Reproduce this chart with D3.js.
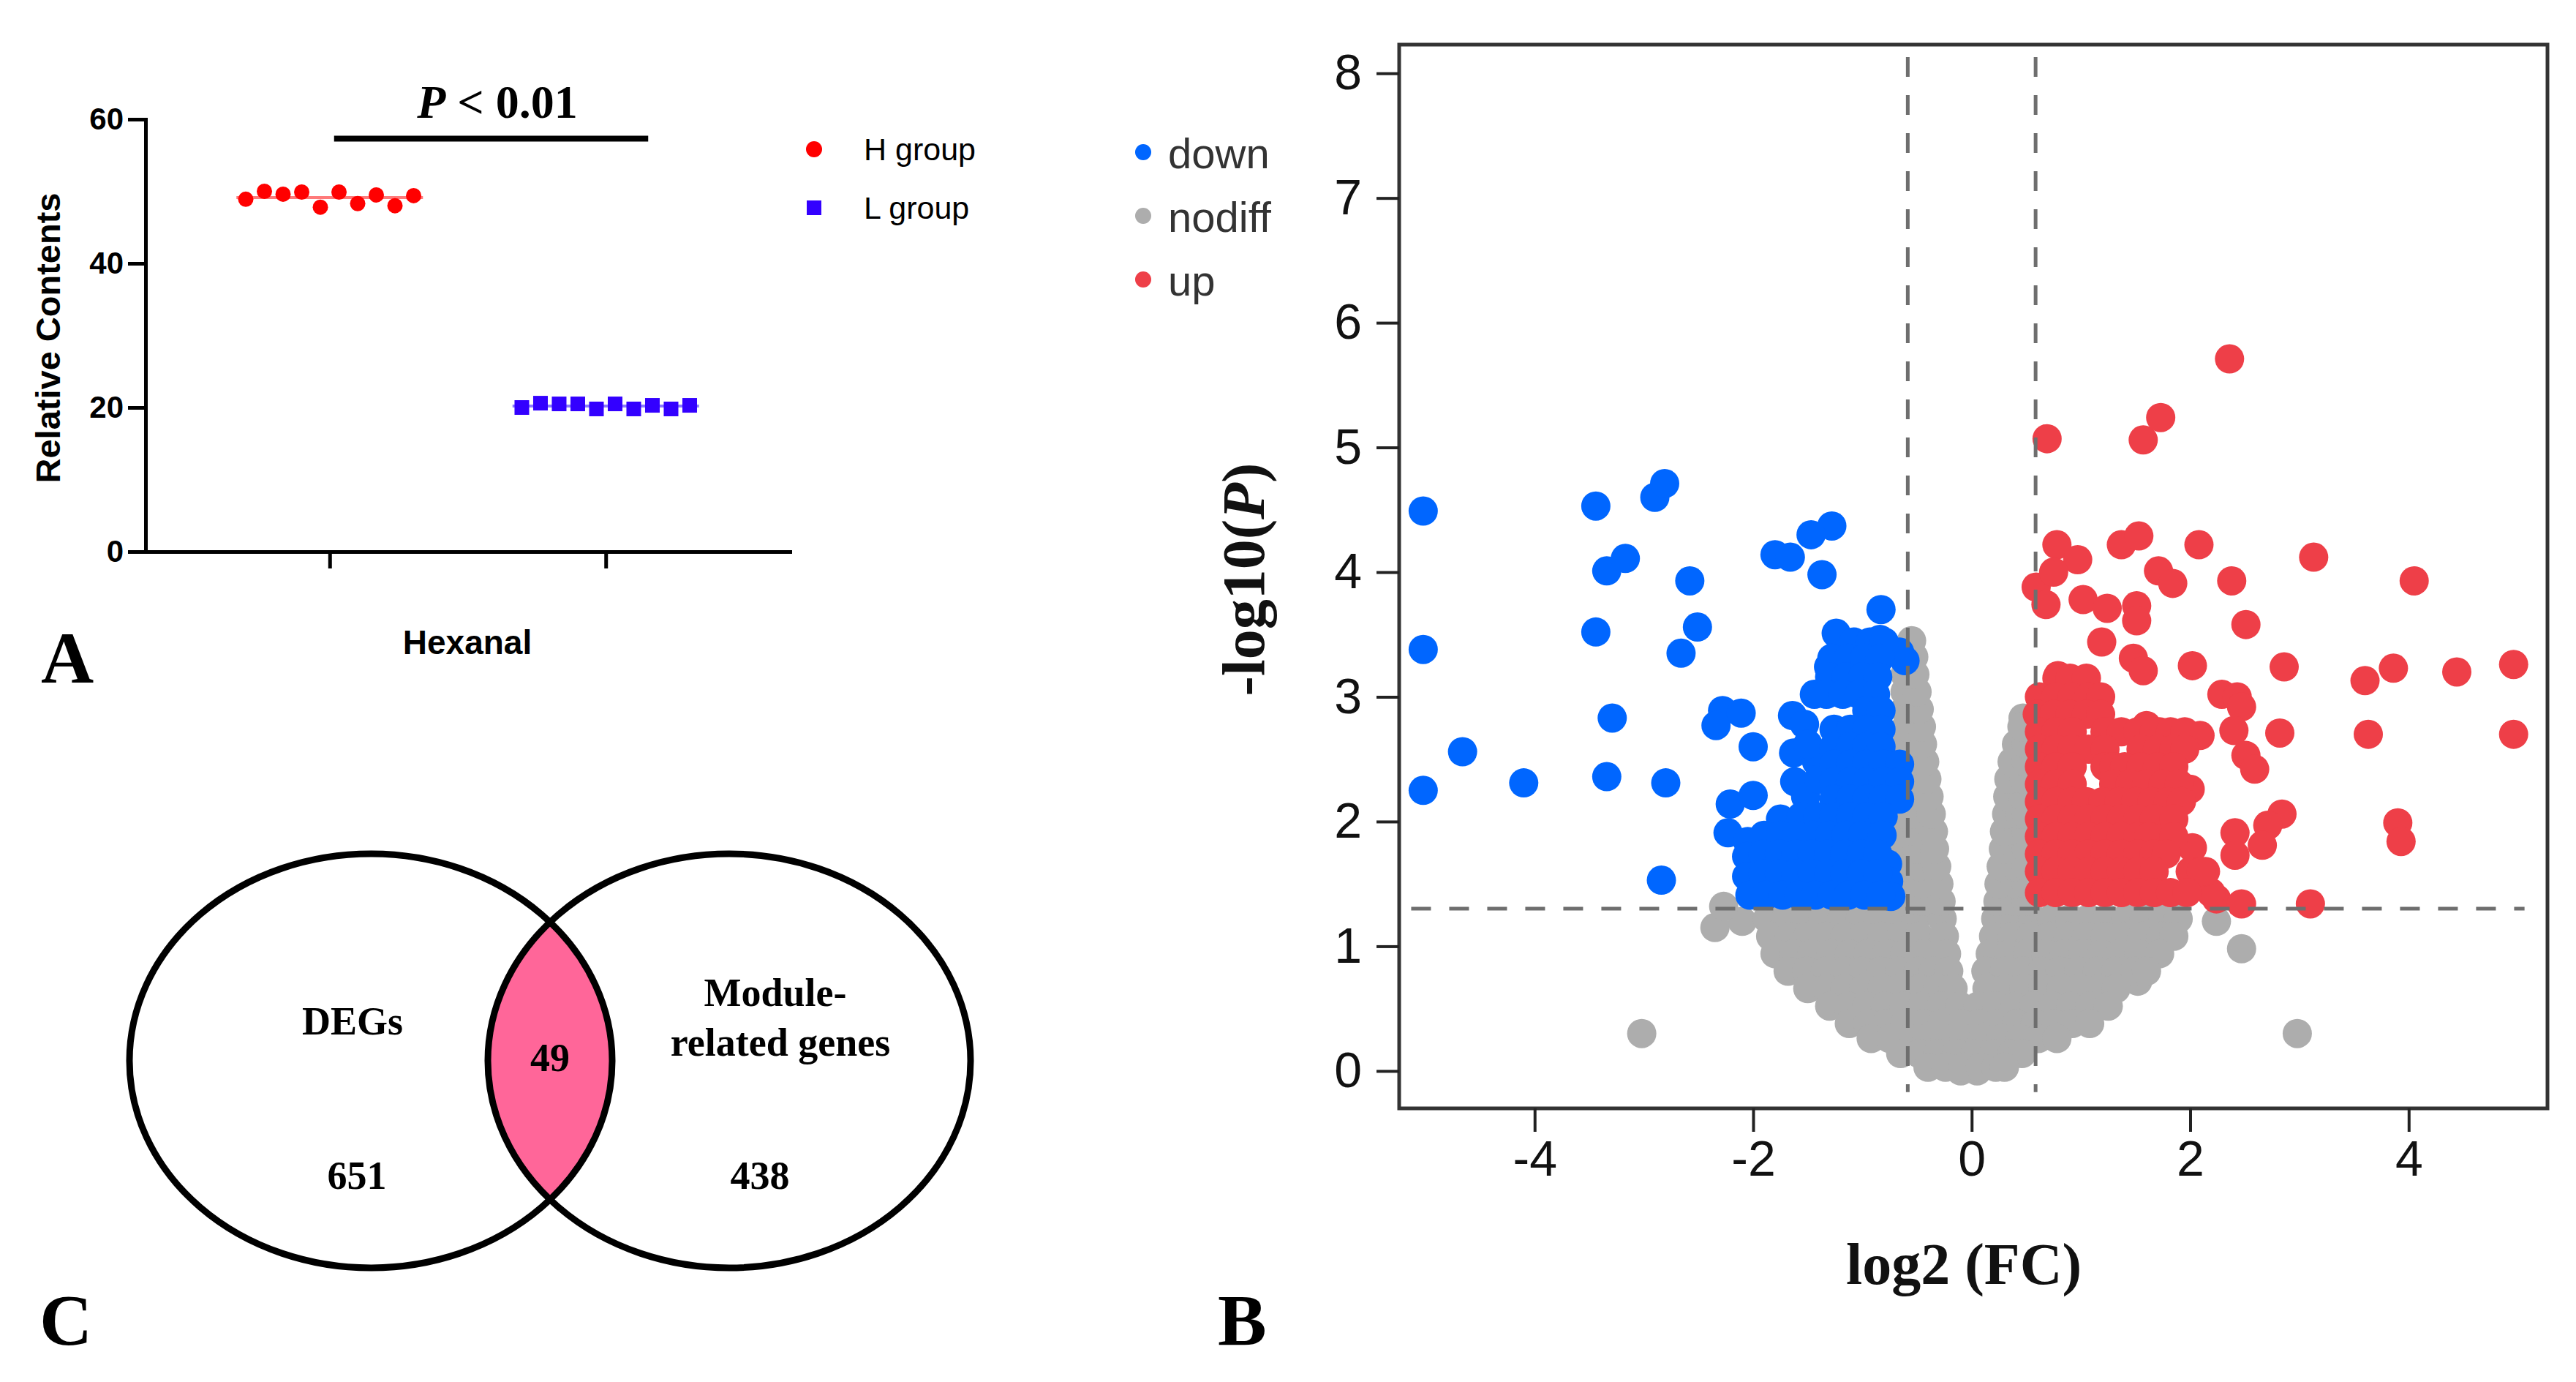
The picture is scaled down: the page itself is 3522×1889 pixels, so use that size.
<!DOCTYPE html>
<html><head><meta charset="utf-8">
<script src="https://cdn.jsdelivr.net/npm/d3@7"></script>
<style>body{margin:0;background:#fff}svg{display:block}</style>
</head><body>
<svg id="fig" width="3522" height="1889"></svg>
<script>
// ---------------- DATA ----------------
// Panel A
const hexanalGroups = ["H group", "L group"];
const hGroupValues = [48.9, 50.0, 49.6, 49.9, 47.8, 49.9, 48.3, 49.5, 48.0, 49.4];
const lGroupValues = [20.0, 20.6, 20.5, 20.5, 19.8, 20.5, 19.8, 20.3, 19.8, 20.3];
const aYTicks = [0, 20, 40, 60];
const aBracketValue = 57.3;

// Panel B (volcano)
const volcanoXTicks = [-4, -2, 0, 2, 4];
const volcanoYTicks = [0, 1, 2, 3, 4, 5, 6, 7, 8];
const fcThresholds = [-0.585, 0.585];
const pThreshold = 1.301;
const volcanoLegend = ["down", "nodiff", "up"];

const downScatter = [
  [-5.02,4.49],[-5.02,3.38],[-5.02,2.25],[-4.66,2.56],[-4.10,2.31],[-3.44,4.53],[-2.90,4.60],[-2.81,4.71],
  [-3.34,4.01],[-3.17,4.11],[-2.58,3.93],[-3.44,3.52],[-2.51,3.56],[-2.66,3.35],[-3.29,2.83],[-3.34,2.36],
  [-2.80,2.31],[-2.84,1.53],[-2.28,2.89],[-2.34,2.77],[-2.11,2.87],[-2.00,2.60],[-2.21,2.14],[-2.23,1.91],
  [-2.00,2.21],[-1.28,4.37],[-1.47,4.30],[-1.80,4.14],[-1.66,4.12],[-1.37,3.98],[-0.83,3.70],[-1.24,3.51],
  [-0.84,3.46],[-0.61,3.29],[-1.31,3.24],[-1.44,3.02],[-1.64,2.85],[-1.53,2.78],[-1.63,2.55],[-1.75,2.02],
  [-1.62,2.32],[-1.52,2.20],[-1.42,2.48],[-1.40,2.34],[-1.50,2.62],[-0.66,3.36],[-0.77,1.66],[-0.76,1.52],
  [-0.74,1.40],[-2.05,1.84],[-2.06,1.72],[-2.06,1.56],[-2.03,1.41]
];
const downRows = [
  [3.44, [-1.08,-0.93,-0.80]],
  [3.31, [-1.28,-1.13,-0.98,-0.84]],
  [3.16, [-1.30,-1.15,-1.00,-0.86]],
  [3.02, [-1.33,-1.18,-1.03,-0.88]],
  [2.89, [-0.96,-0.83]],
  [2.74, [-1.26,-1.11,-0.96,-0.83]],
  [2.60, [-1.26,-1.11,-0.96,-0.83]],
  [2.46, [-1.26,-1.11,-0.96,-0.81,-0.66]],
  [2.32, [-1.26,-1.11,-0.96,-0.81,-0.66]],
  [2.18, [-1.26,-1.11,-0.96,-0.81,-0.66]],
  [2.04, [-1.56,-1.41,-1.26,-1.11,-0.96,-0.81]],
  [1.89, [-1.90,-1.75,-1.60,-1.45,-1.30,-1.15,-1.00,-0.82]],
  [1.74, [-1.91,-1.76,-1.61,-1.46,-1.31,-1.16,-1.01,-0.86]],
  [1.58, [-1.91,-1.76,-1.61,-1.46,-1.31,-1.16,-1.01,-0.86]],
  [1.41, [-1.88,-1.73,-1.58,-1.43,-1.28,-1.13,-0.98,-0.83]]
];

const upScatter = [
  [2.36,5.71],[0.69,5.07],[1.57,5.06],[1.73,5.24],[0.78,4.22],[0.97,4.10],[1.37,4.22],[1.53,4.29],
  [2.08,4.22],[2.38,3.93],[0.59,3.88],[0.75,4.00],[0.68,3.74],[1.02,3.78],[1.24,3.71],[1.51,3.73],
  [1.71,4.01],[1.84,3.91],[1.51,3.61],[1.19,3.44],[2.51,3.58],[2.02,3.25],[1.48,3.31],[1.57,3.21],
  [0.79,3.17],[2.29,3.02],[2.09,2.69],[2.00,2.26],[2.02,1.79],[2.24,1.38],[3.13,4.12],[4.05,3.93],
  [2.86,3.24],[3.60,3.13],[3.86,3.23],[4.44,3.20],[4.96,3.26],[4.96,2.70],[3.63,2.70],[2.82,2.71],
  [2.43,3.00],[2.47,2.92],[2.40,2.73],[2.51,2.53],[2.59,2.42],[2.84,2.06],[2.71,1.97],[2.66,1.81],
  [2.41,1.91],[2.41,1.73],[3.90,1.99],[3.93,1.84],[2.47,1.34],[3.10,1.34],[1.60,2.77],[2.19,1.43],
  [2.14,1.60],[1.72,2.72]
];
const upRows = [
  [3.15, [0.78,0.90,1.05]],
  [3.00, [0.62,0.77,0.92,1.07,1.18]],
  [2.86, [0.60,0.75,0.90,1.05,1.18]],
  [2.72, [0.62,0.77,0.92,1.22,1.37,1.52,1.67,1.82,1.95]],
  [2.58, [0.62,0.77,0.92,1.07,1.22,1.55,1.70,1.85,1.95]],
  [2.44, [0.62,0.77,0.92,1.22,1.30,1.40,1.55,1.70,1.85]],
  [2.30, [0.62,0.77,0.92,1.30,1.45,1.60,1.75,1.90]],
  [2.16, [0.62,0.77,0.92,1.05,1.20,1.35,1.50,1.65,1.80,1.92]],
  [2.02, [0.62,0.77,0.92,1.07,1.22,1.37,1.52,1.67,1.85]],
  [1.88, [0.62,0.77,0.92,1.07,1.22,1.37,1.52,1.62,1.85]],
  [1.74, [0.62,0.77,0.92,1.07,1.22,1.37,1.52,1.67,1.78]],
  [1.60, [0.62,0.77,0.92,1.07,1.22,1.37,1.52,1.67,2.00,2.10]],
  [1.43, [0.62,0.77,0.92,1.07,1.22,1.37,1.52,1.67,1.82,1.97]]
];

const nodiffScatter = [
  [-3.02,0.30],[2.98,0.30],[-2.35,1.15],[-2.10,1.20],[-2.27,1.32],[2.24,1.20],[2.47,0.98],
  [1.52,0.72],[0.47,2.83],[-0.10,0.00],[0.05,0.00]
];
const nodiffRows = [
  [1.22, [-1.87,-1.70,-1.53,-1.36,-1.19,-1.02,-0.85,-0.68,-0.51,-0.27,0.22,0.39,0.56,0.73,0.90,1.07,1.24,1.41,1.58,1.75,1.89]],
  [1.08, [-1.84,-1.67,-1.50,-1.33,-1.16,-0.99,-0.82,-0.65,-0.48,-0.25,0.20,0.37,0.54,0.71,0.88,1.05,1.22,1.39,1.56,1.73,1.85]],
  [0.94, [-1.80,-1.63,-1.46,-1.29,-1.12,-0.95,-0.78,-0.61,-0.44,-0.23,0.17,0.34,0.51,0.68,0.85,1.02,1.19,1.36,1.53,1.72]],
  [0.80, [-1.68,-1.51,-1.34,-1.17,-1.00,-0.83,-0.66,-0.49,-0.35,-0.21,0.13,0.30,0.47,0.64,0.81,0.98,1.15,1.32,1.49,1.60]],
  [0.66, [-1.50,-1.33,-1.16,-0.99,-0.82,-0.65,-0.48,-0.31,-0.17,0.14,0.31,0.48,0.65,0.82,0.99,1.16,1.32]],
  [0.52, [-1.30,-1.13,-0.96,-0.79,-0.62,-0.45,-0.28,-0.11,0.06,0.23,0.40,0.57,0.74,0.91,1.08,1.25]],
  [0.38, [-1.12,-0.95,-0.78,-0.61,-0.44,-0.27,-0.10,0.07,0.24,0.41,0.58,0.75,0.92,1.08]],
  [0.26, [-0.92,-0.75,-0.58,-0.41,-0.24,-0.07,0.10,0.27,0.44,0.61,0.78]],
  [0.14, [-0.65,-0.48,-0.31,-0.14,0.03,0.20,0.37,0.46]],
  [0.03, [-0.40,-0.24,-0.08,0.08,0.22,0.30]],
  [1.36, [-0.60,-0.44,-0.28,0.24,0.40,0.50]],
  [1.50, [-0.62,-0.46,-0.30,0.25,0.40,0.50]],
  [1.64, [-0.62,-0.48,-0.32,0.27,0.40,0.50]],
  [1.78, [-0.62,-0.50,-0.34,0.29,0.42,0.50]],
  [1.92, [-0.62,-0.50,-0.35,0.30,0.43,0.50]],
  [2.06, [-0.62,-0.52,-0.37,0.32,0.44,0.50]],
  [2.20, [-0.54,-0.39,0.33,0.47]],
  [2.34, [-0.56,-0.41,0.34,0.48]],
  [2.48, [-0.57,-0.43,0.37,0.50]],
  [2.62, [-0.60,-0.45,0.41,0.50]],
  [2.76, [-0.60,-0.46,0.46]],
  [2.90, [-0.61,-0.48]],
  [3.04, [-0.61,-0.50]],
  [3.18, [-0.61,-0.52]],
  [3.32, [-0.53]],
  [3.45, [-0.55]]
];

// Panel C (Venn)
const vennSetLabels = ["DEGs", ["Module-", "related genes"]];
const vennCounts = { onlyDEGs: 651, both: 49, onlyModule: 438 };

// ---------------- DRAW ----------------
const SANS = "'Liberation Sans', Arial, Helvetica, sans-serif";
const SERIF = "'Liberation Serif', 'Times New Roman', Times, serif";
const svg = d3.select("#fig");
svg.append("rect").attr("width", 3522).attr("height", 1889).attr("fill", "#fff");

const rows2pts = rows => rows.flatMap(([y, xs]) => xs.map(x => [x, y]));

// ===== Panel A =====
const yA = d3.scaleLinear().domain([0, 60]).range([754, 163]);
const xA = d3.scalePoint().domain(hexanalGroups).range([199, 1080]).padding(0.667);
const gA = svg.append("g");

gA.append("g").attr("transform", "translate(0,754)")
  .call(d3.axisBottom(xA).tickSize(23).tickSizeOuter(0).tickFormat(""))
  .call(g => {
    g.select(".domain").attr("stroke", "#000").attr("stroke-width", 5).attr("stroke-linecap", "square");
    g.selectAll(".tick line").attr("stroke", "#000").attr("stroke-width", 5);
  });
gA.append("g").attr("transform", "translate(199,0)")
  .call(d3.axisLeft(yA).tickValues(aYTicks).tickSize(24).tickSizeOuter(0).tickPadding(6))
  .call(g => {
    g.select(".domain").attr("stroke", "#000").attr("stroke-width", 5).attr("stroke-linecap", "square");
    g.selectAll(".tick line").attr("stroke", "#000").attr("stroke-width", 5);
    g.selectAll(".tick text").attr("font-family", SANS).attr("font-weight", "bold")
      .attr("font-size", 42).attr("fill", "#000");
  });

const jitter = 25.5;
const groupSeries = [
  { name: hexanalGroups[0], values: hGroupValues, color: "#FF0000", line: "#FF7A7A", shape: "circle" },
  { name: hexanalGroups[1], values: lGroupValues, color: "#3300FF", line: "#8C7AFF", shape: "square" }
];
groupSeries.forEach(s => {
  const cx = xA(s.name);
  const n = s.values.length;
  const m = d3.mean(s.values);
  gA.append("line")
    .attr("x1", cx - (n / 2) * jitter).attr("x2", cx + (n / 2) * jitter)
    .attr("y1", yA(m)).attr("y2", yA(m))
    .attr("stroke", s.line).attr("stroke-width", 4);
  const sel = gA.append("g").selectAll("x").data(s.values).enter();
  if (s.shape === "circle") {
    sel.append("circle")
      .attr("cx", (d, i) => cx + (i - (n - 1) / 2) * jitter)
      .attr("cy", d => yA(d)).attr("r", 10.5).attr("fill", s.color);
  } else {
    sel.append("rect")
      .attr("x", (d, i) => cx + (i - (n - 1) / 2) * jitter - 10)
      .attr("y", d => yA(d) - 10).attr("width", 20).attr("height", 20).attr("fill", s.color);
  }
});

// significance bracket
gA.append("line")
  .attr("x1", xA(hexanalGroups[0]) + 6).attr("x2", xA(hexanalGroups[1]) + 58)
  .attr("y1", yA(aBracketValue)).attr("y2", yA(aBracketValue))
  .attr("stroke", "#000").attr("stroke-width", 8);
const pt = gA.append("text").attr("x", 680).attr("y", 161).attr("text-anchor", "middle")
  .attr("font-family", SERIF).attr("font-weight", "bold").attr("font-size", 64).attr("fill", "#000");
pt.append("tspan").attr("font-style", "italic").text("P");
pt.append("tspan").text(" < 0.01");

gA.append("text").attr("transform", "translate(82,462) rotate(-90)").attr("text-anchor", "middle")
  .attr("font-family", SANS).attr("font-weight", "bold").attr("font-size", 47).attr("fill", "#000")
  .text("Relative Contents");
gA.append("text").attr("x", 639).attr("y", 894).attr("text-anchor", "middle")
  .attr("font-family", SANS).attr("font-weight", "bold").attr("font-size", 46).attr("fill", "#000")
  .text("Hexanal");

// legend A
const legA = gA.append("g");
legA.append("circle").attr("cx", 1113).attr("cy", 204).attr("r", 11).attr("fill", groupSeries[0].color);
legA.append("rect").attr("x", 1103).attr("y", 274).attr("width", 20).attr("height", 20).attr("fill", groupSeries[1].color);
legA.selectAll("text.l").data(hexanalGroups).enter().append("text")
  .attr("x", 1181).attr("y", (d, i) => 219 + i * 80)
  .attr("font-family", SANS).attr("font-size", 43).attr("fill", "#000").text(d => d);

svg.append("text").attr("x", 56).attr("y", 933).attr("font-family", SERIF).attr("font-weight", "bold")
  .attr("font-size", 100).attr("fill", "#000").text("A");

// ===== Panel B =====
const xB = d3.scaleLinear().domain([-5.24, 5.27]).range([1913, 3483]);
const yB = d3.scaleLinear().domain([-0.30, 8.23]).range([1515, 61]);
const gB = svg.append("g");
const R = 20;
const colB = { down: "#0066FF", nodiff: "#ADADAD", up: "#EE3F48" };

gB.append("defs").append("clipPath").attr("id", "plotClip")
  .append("rect").attr("x", 1913).attr("y", 61).attr("width", 1570).attr("height", 1454);
const pts = gB.append("g").attr("clip-path", "url(#plotClip)");
const series = [
  { key: "nodiff", data: nodiffScatter.concat(rows2pts(nodiffRows)) },
  { key: "down", data: downScatter.concat(rows2pts(downRows)) },
  { key: "up", data: upScatter.concat(rows2pts(upRows)) }
];
series.forEach(s => {
  pts.append("g").selectAll("circle").data(s.data).enter().append("circle")
    .attr("cx", d => xB(d[0])).attr("cy", d => yB(d[1])).attr("r", R).attr("fill", colB[s.key]);
});

// threshold lines
const dash = "27,25";
fcThresholds.forEach(t => {
  gB.append("line").attr("x1", xB(t)).attr("x2", xB(t)).attr("y1", yB(8.13)).attr("y2", yB(-0.17))
    .attr("stroke", "#6E6E6E").attr("stroke-width", 5).attr("stroke-dasharray", dash);
});
gB.append("line").attr("x1", xB(-5.13)).attr("x2", xB(5.06)).attr("y1", yB(pThreshold)).attr("y2", yB(pThreshold))
  .attr("stroke", "#6E6E6E").attr("stroke-width", 5).attr("stroke-dasharray", dash);

// box
gB.append("rect").attr("x", 1913).attr("y", 61).attr("width", 1570).attr("height", 1454)
  .attr("fill", "none").attr("stroke", "#333").attr("stroke-width", 5);

const styleAxis = g => {
  g.select(".domain").remove();
  g.selectAll(".tick line").attr("stroke", "#222").attr("stroke-width", 4);
  g.selectAll(".tick text").attr("font-family", SANS).attr("font-size", 68).attr("fill", "#111");
};
gB.append("g").attr("transform", "translate(1913,0)")
  .call(d3.axisLeft(yB).tickValues(volcanoYTicks).tickSize(31).tickPadding(20).tickFormat(d => String(d)))
  .call(styleAxis);
gB.append("g").attr("transform", "translate(0,1515)")
  .call(d3.axisBottom(xB).tickValues(volcanoXTicks).tickSize(32).tickPadding(12).tickFormat(d => String(d)))
  .call(styleAxis);

// axis titles
gB.append("text").attr("x", 2685).attr("y", 1755).attr("text-anchor", "middle")
  .attr("font-family", SERIF).attr("font-weight", "bold").attr("font-size", 80).attr("fill", "#111")
  .text("log2 (FC)");
const yt = gB.append("text").attr("transform", "translate(1728,792) rotate(-90)").attr("text-anchor", "middle")
  .attr("font-family", SERIF).attr("font-weight", "bold").attr("font-size", 82).attr("fill", "#111");
yt.append("tspan").text("-log10(");
yt.append("tspan").attr("font-style", "italic").text("P");
yt.append("tspan").text(")");

// legend B
const legB = gB.append("g");
volcanoLegend.forEach((k, i) => {
  const base = 230 + i * 87;
  legB.append("circle").attr("cx", 1563).attr("cy", base - 22).attr("r", 11).attr("fill", colB[k]);
  legB.append("text").attr("x", 1597).attr("y", base).attr("font-family", SANS).attr("font-size", 58)
    .attr("fill", "#333").text(k);
});

svg.append("text").attr("x", 1665).attr("y", 1838).attr("font-family", SERIF).attr("font-weight", "bold")
  .attr("font-size", 100).attr("fill", "#000").text("B");

// ===== Panel C (Venn) =====
const gC = svg.append("g");
const ell = [{ cx: 507, cy: 1450, rx: 330, ry: 283 }, { cx: 997, cy: 1450, rx: 330, ry: 283 }];
gC.append("defs").append("clipPath").attr("id", "leftEll")
  .append("ellipse").attr("cx", ell[0].cx).attr("cy", ell[0].cy).attr("rx", ell[0].rx).attr("ry", ell[0].ry);
gC.append("ellipse").attr("cx", ell[1].cx).attr("cy", ell[1].cy).attr("rx", ell[1].rx).attr("ry", ell[1].ry)
  .attr("fill", "#FF6699").attr("clip-path", "url(#leftEll)");
gC.selectAll("ellipse.o").data(ell).enter().append("ellipse")
  .attr("cx", d => d.cx).attr("cy", d => d.cy).attr("rx", d => d.rx).attr("ry", d => d.ry)
  .attr("fill", "none").attr("stroke", "#000").attr("stroke-width", 9);

const vt = (x, y, t) => gC.append("text").attr("x", x).attr("y", y).attr("text-anchor", "middle")
  .attr("font-family", SERIF).attr("font-weight", "bold").attr("font-size", 54).attr("fill", "#000").text(t);
vt(482, 1414, vennSetLabels[0]);
vt(1060, 1375, vennSetLabels[1][0]);
vt(1067, 1443, vennSetLabels[1][1]);
vt(752, 1464, vennCounts.both);
vt(488, 1625, vennCounts.onlyDEGs);
vt(1039, 1625, vennCounts.onlyModule);

svg.append("text").attr("x", 54).attr("y", 1838).attr("font-family", SERIF).attr("font-weight", "bold")
  .attr("font-size", 100).attr("fill", "#000").text("C");
</script>
</body></html>
